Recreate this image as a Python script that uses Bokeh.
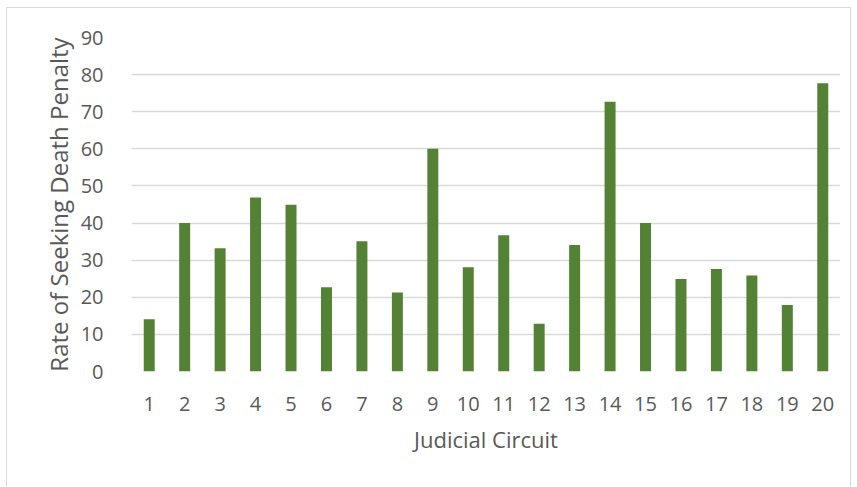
from bokeh.plotting import figure
from bokeh.models import ColumnDataSource, FactorRange, Range1d, FixedTicker
from bokeh.embed import file_html
from bokeh.resources import INLINE

circuits = [str(i) for i in range(1, 21)]
rates = [14.1, 40.0, 33.2, 46.9, 44.9, 22.7, 35.1, 21.3, 60.0, 28.1,
         36.7, 12.9, 34.1, 72.7, 40.0, 24.9, 27.6, 25.9, 17.9, 77.7]
y_ticks = [0, 10, 20, 30, 40, 50, 60, 70, 80, 90]

src = ColumnDataSource(dict(x=circuits, y=rates))

p = figure(width=845, height=479, x_range=FactorRange(*circuits, range_padding=0),
           y_range=Range1d(0, 90), output_backend="svg", toolbar_location=None,
           min_border_left=124, min_border_right=12, min_border_top=29, min_border_bottom=116)
p.styles = {"margin-left": "6px", "margin-top": "7px",
            "border-left": "1px solid #d9d9d9", "border-top": "1px solid #d9d9d9",
            "border-right": "1px solid #d9d9d9"}
p.outline_line_color = None
p.vbar(x="x", top="y", width=0.31, source=src, fill_color="#548235", line_color=None)

font = "Open Sans"
p.yaxis.ticker = FixedTicker(ticks=y_ticks)
for ax in (p.xaxis, p.yaxis):
    ax.axis_line_color = None
    ax.major_tick_line_color = None
    ax.minor_tick_line_color = None
    ax.major_label_text_font = font
    ax.major_label_text_font_size = "20px"
    ax.major_label_text_color = "#595959"
    ax.axis_label_text_font = font
    ax.axis_label_text_color = "#595959"
    ax.axis_label_text_font_style = "normal"
p.xaxis.axis_label = "Judicial Circuit"
p.yaxis.axis_label = "Rate of Seeking Death Penalty"
p.xaxis.axis_label_text_font_size = "22px"
p.yaxis.axis_label_text_font_size = "24px"
p.xaxis.major_label_standoff = 19
p.xaxis.axis_label_standoff = 10
p.yaxis.major_label_standoff = 22
p.yaxis.axis_label_standoff = 3
p.xgrid.grid_line_color = None
p.ygrid.grid_line_color = "#d9d9d9"
p.ygrid.grid_line_width = 1.5
p.ygrid.ticker = FixedTicker(ticks=y_ticks)

open("out.html", "w").write(file_html(p, INLINE))
